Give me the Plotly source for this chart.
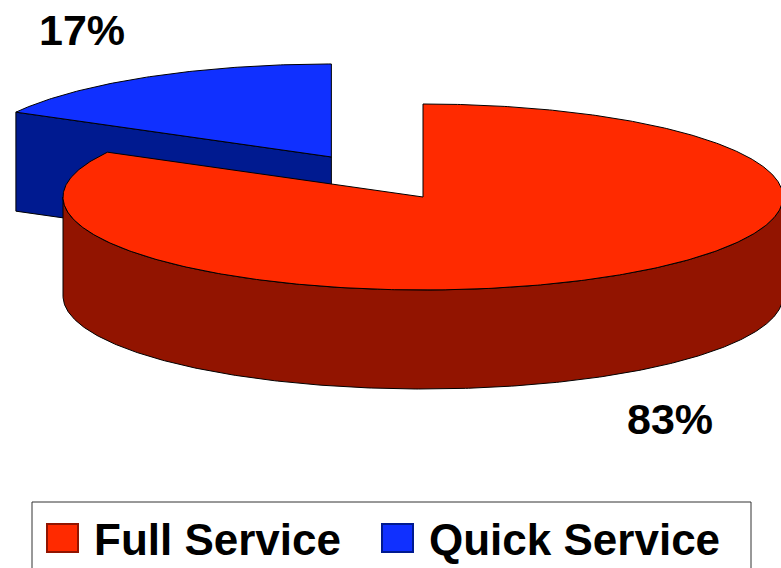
import numpy as np
import plotly.graph_objects as go

# ---- data ----
labels = ["Full Service", "Quick Service"]
values = [83, 17]
pie_order = ["Quick Service", "Full Service"]   # counter-clockwise from 12 o'clock
pull = {"Full Service": 0.0, "Quick Service": 0.5}
top_colors = {"Full Service": "#FF2A00", "Quick Service": "#1030FF"}
side_colors = {"Full Service": "#921400", "Quick Service": "#001A90"}

# ---- geometry (pixel space) ----
W, H = 781, 568
cx, cy = 423, 197
rx, ry = 360, 93
depth = 99

total = sum(values)
val = dict(zip(labels, values))


def rim(t_deg, ox, oy, dz=0.0):
    t = np.radians(t_deg)
    return ox - rx * np.sin(t), oy - ry * np.cos(t) + dz


def arc(a, b, ox, oy, dz=0.0):
    n = max(int(abs(b - a) * 2), 2)
    ts = np.linspace(a, b, n)
    xs, ys = rim(ts, ox, oy, dz)
    return list(xs), list(ys)


slices = []
start = 0.0
for name in pie_order:
    sweep = val[name] / total * 360.0
    a, b = start, start + sweep
    mid = np.radians((a + b) / 2)
    ox = cx - pull[name] * rx * np.sin(mid)
    oy = cy - pull[name] * ry * np.cos(mid)
    slices.append((name, a, b, ox, oy))
    start = b

fig = go.Figure()


def poly(xs, ys, color):
    fig.add_trace(go.Scatter(x=xs + [xs[0]], y=ys + [ys[0]], fill="toself",
                             fillcolor=color, mode="lines",
                             line=dict(color="black", width=1),
                             hoverinfo="skip", showlegend=False))


# back slice (pulled) first, then front
for name, a, b, ox, oy in slices:
    # radial end face (visible when facing viewer)
    if np.sin(np.radians(b)) > 1e-6:
        px, py = rim(b, ox, oy)
        poly([ox, px, px, ox], [oy, py, py + depth, oy + depth], side_colors[name])
    if np.sin(np.radians(a)) < -1e-6:
        px, py = rim(a, ox, oy)
        poly([ox, px, px, ox], [oy, py, py + depth, oy + depth], side_colors[name])
    # outer curved side, front half only
    lo, hi = max(a, 90), min(b, 270)
    if hi > lo:
        tx, ty = arc(lo, hi, ox, oy)
        bx, by = arc(hi, lo, ox, oy, depth)
        poly(tx + bx, ty + by, side_colors[name])
    # top face
    tx, ty = arc(a, b, ox, oy)
    poly([ox] + tx, [oy] + ty, top_colors[name])

# percentage labels
label_pos = {"Quick Service": (82, 30), "Full Service": (670, 419)}
for name in labels:
    x, y = label_pos[name]
    fig.add_annotation(x=x, y=y, text="<b>%d%%</b>" % round(val[name] / total * 100),
                       showarrow=False, xanchor="center", yanchor="middle",
                       font=dict(family="Arial, Liberation Sans", size=43, color="black"))

# legend (box, swatches, texts)
fig.add_shape(type="rect", x0=32, y0=502, x1=751, y1=H + 5,
              line=dict(color="#333333", width=1), fillcolor="rgba(0,0,0,0)")
sw_x = {"Full Service": 47, "Quick Service": 382}
for name in labels:
    x0 = sw_x[name]
    fig.add_shape(type="rect", x0=x0, y0=524, x1=x0 + 31, y1=552,
                  line=dict(color=side_colors[name], width=2),
                  fillcolor=top_colors[name])
    fig.add_annotation(x=x0 + 45, y=539, text="<b>%s</b>" % name, showarrow=False,
                       xanchor="left", yanchor="middle",
                       font=dict(family="Arial, Liberation Sans", size=44, color="black"))

fig.update_layout(
    width=W, height=H, margin=dict(l=0, r=0, t=0, b=0),
    paper_bgcolor="white", plot_bgcolor="white",
    xaxis=dict(range=[0, W], visible=False, fixedrange=True),
    yaxis=dict(range=[H, 0], visible=False, fixedrange=True),
    showlegend=False,
)

fig.write_html("out.html")
